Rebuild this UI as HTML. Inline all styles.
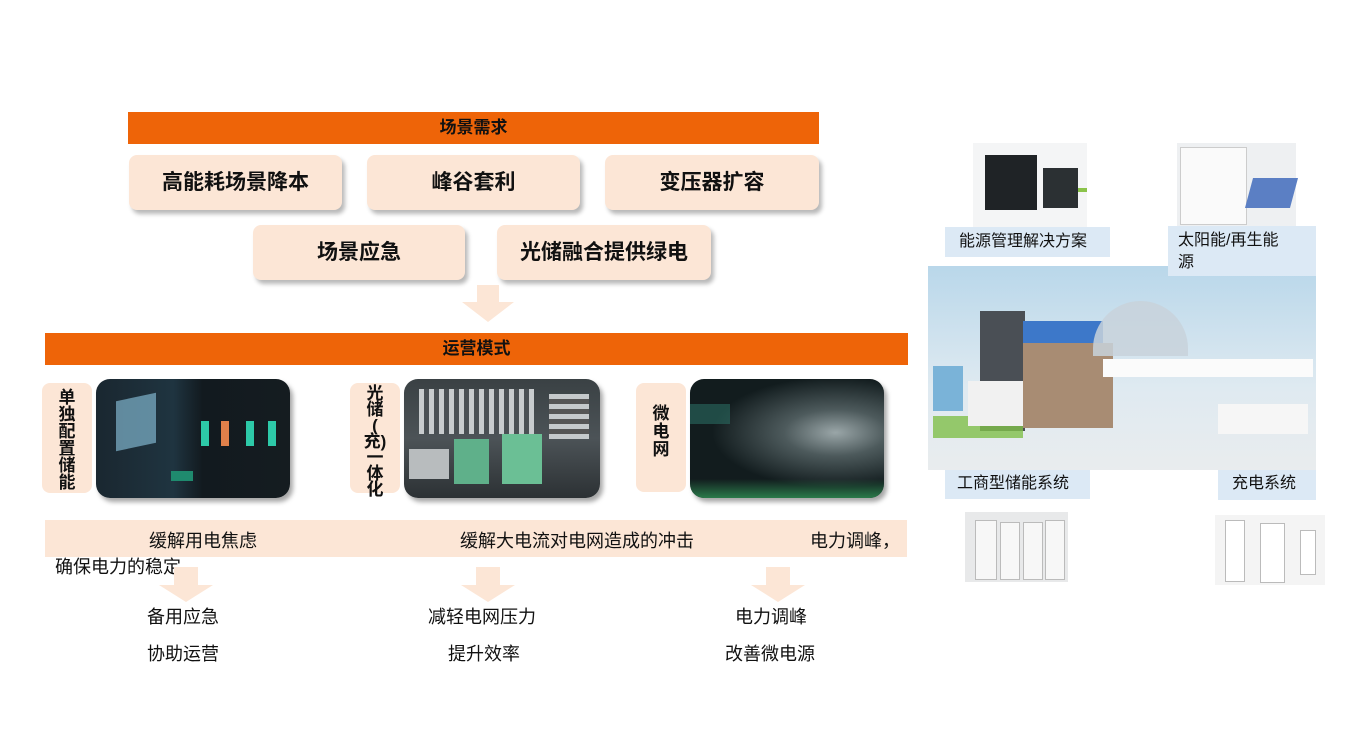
<!DOCTYPE html>
<html><head><meta charset="utf-8"><style>
*{margin:0;padding:0;box-sizing:border-box}
body{width:1369px;height:752px;background:#fff;position:relative;overflow:hidden;font-family:"Liberation Sans","Noto Sans CJK SC",sans-serif;color:#111}
.a{position:absolute}
.bar{background:#ee6408;color:#111;font-weight:bold;font-size:17px;text-align:center;line-height:32px}
.box{background:#fce6d6;border-radius:8px;box-shadow:3px 4px 4px rgba(0,0,0,.28);font-weight:bold;font-size:21px;text-align:center;line-height:55px}
.vl{background:#fce6d6;border-radius:8px;font-weight:bold;font-size:17px;text-align:center;line-height:17px;padding-top:6px}
.img{border-radius:14px;box-shadow:3px 4px 5px rgba(0,0,0,.35);overflow:hidden}
.t{font-size:18px;white-space:nowrap}
.lbl{background:#dce9f5;font-size:16px;line-height:22px;padding-left:14px}
</style></head><body>

<div class="a bar" style="left:128px;top:112px;width:691px;height:32px">场景需求</div>
<div class="a box" style="left:129px;top:155px;width:213px;height:55px">高能耗场景降本</div>
<div class="a box" style="left:367px;top:155px;width:213px;height:55px">峰谷套利</div>
<div class="a box" style="left:605px;top:155px;width:214px;height:55px">变压器扩容</div>
<div class="a box" style="left:253px;top:225px;width:212px;height:55px">场景应急</div>
<div class="a box" style="left:497px;top:225px;width:214px;height:55px">光储融合提供绿电</div>

<svg class="a" style="left:460px;top:285px" width="56" height="38"><polygon points="17,0 39,0 39,17 54,17 28,37 2,17 17,17" fill="#fce6d6"/></svg>

<div class="a bar" style="left:45px;top:333px;width:863px;height:32px">运营模式</div>

<div class="a vl" style="left:42px;top:383px;width:50px;height:110px">单<br>独<br>配<br>置<br>储<br>能</div>
<div class="a img" style="left:96px;top:379px;width:194px;height:119px;background:linear-gradient(90deg,#1a2730 0%,#1f3440 40%,#121a1f 55%,#151c20 100%)">
 <div class="a" style="left:20px;top:18px;width:40px;height:50px;background:#7fb3cc;opacity:.7;transform:skewY(-12deg)"></div>
 <div class="a" style="left:105px;top:42px;width:8px;height:25px;background:#2dc9a8"></div>
 <div class="a" style="left:125px;top:42px;width:8px;height:25px;background:#e0804a"></div>
 <div class="a" style="left:150px;top:42px;width:8px;height:25px;background:#2dc9a8"></div>
 <div class="a" style="left:172px;top:42px;width:8px;height:25px;background:#2dc9a8"></div>
 <div class="a" style="left:75px;top:92px;width:22px;height:10px;background:#1f8a6e"></div>
</div>

<div class="a vl" style="left:350px;top:383px;width:50px;height:110px;line-height:16px;padding-top:3px">光<br>储<br>(<br>充)<br>一<br>体<br>化</div>
<div class="a img" style="left:404px;top:379px;width:196px;height:119px;background:linear-gradient(180deg,#3a4144,#4c5357 50%,#2c3134)">
 <div class="a" style="left:15px;top:10px;width:115px;height:45px;background:repeating-linear-gradient(90deg,#c8ccce 0 5px,#4a5054 5px 10px)"></div>
 <div class="a" style="left:50px;top:60px;width:35px;height:45px;background:#5fb08a"></div>
 <div class="a" style="left:98px;top:55px;width:40px;height:50px;background:#6bbf95"></div>
 <div class="a" style="left:5px;top:70px;width:40px;height:30px;background:#b8bcbe"></div>
 <div class="a" style="left:145px;top:15px;width:40px;height:45px;background:repeating-linear-gradient(180deg,#c5c9cb 0 5px,#555 5px 10px)"></div>
</div>

<div class="a vl" style="left:636px;top:383px;width:50px;height:109px;padding-top:22px;line-height:18px">微<br>电<br>网</div>
<div class="a img" style="left:690px;top:379px;width:194px;height:119px;background:radial-gradient(ellipse at 75% 45%,#9aa6a8 0%,#4d5a5c 25%,#121c1e 60%),#0e1718">
 <div class="a" style="left:0;top:100px;width:194px;height:19px;background:linear-gradient(0deg,#2a7a4a,transparent)"></div>
 <div class="a" style="left:0;top:25px;width:40px;height:20px;background:#2a6a60;opacity:.6"></div>
</div>

<div class="a" style="left:45px;top:520px;width:862px;height:37px;background:#fce6d6"></div>
<div class="a t" style="left:149px;top:527px">缓解用电焦虑</div>
<div class="a t" style="left:460px;top:527px">缓解大电流对电网造成的冲击</div>
<div class="a t" style="left:810px;top:527px">电力调峰，</div>
<div class="a t" style="left:55px;top:553px">确保电力的稳定</div>

<svg class="a" style="left:159px;top:567px" width="56" height="36"><polygon points="15,0 39,0 39,18 54,18 27,35 0,18 15,18" fill="#fce6d6"/></svg>
<svg class="a" style="left:461px;top:567px" width="56" height="36"><polygon points="15,0 39,0 39,18 54,18 27,35 0,18 15,18" fill="#fce6d6"/></svg>
<svg class="a" style="left:751px;top:567px" width="56" height="36"><polygon points="15,0 39,0 39,18 54,18 27,35 0,18 15,18" fill="#fce6d6"/></svg>

<div class="a t" style="left:147px;top:603px">备用应急</div>
<div class="a t" style="left:147px;top:640px">协助运营</div>
<div class="a t" style="left:428px;top:603px">减轻电网压力</div>
<div class="a t" style="left:448px;top:640px">提升效率</div>
<div class="a t" style="left:735px;top:603px">电力调峰</div>
<div class="a t" style="left:725px;top:640px">改善微电源</div>

<!-- right -->
<div class="a" style="left:973px;top:143px;width:114px;height:84px;background:#f4f5f6">
 <div class="a" style="left:12px;top:12px;width:52px;height:55px;background:#1f2326"></div>
 <div class="a" style="left:70px;top:25px;width:35px;height:40px;background:#2b3033"></div>
 <div class="a" style="left:105px;top:45px;width:9px;height:4px;background:#8bc34a"></div>
</div>
<div class="a" style="left:1177px;top:143px;width:119px;height:84px;background:#eef0f2">
 <div class="a" style="left:3px;top:4px;width:67px;height:78px;background:#fafafa;border:1px solid #ccc"></div>
 <div class="a" style="left:72px;top:35px;width:45px;height:30px;background:#5b7fc4;transform:skewX(-15deg)"></div>
</div>
<div class="a lbl" style="left:945px;top:227px;width:165px;height:30px;padding-top:4px">能源管理解决方案</div>

<div class="a" style="left:928px;top:266px;width:388px;height:204px;background:linear-gradient(180deg,#b9d7ea 0%,#dfeaf1 60%,#e9ecee 100%)">
 <div class="a" style="left:52px;top:45px;width:45px;height:120px;background:#4a4f55"></div>
 <div class="a" style="left:95px;top:55px;width:80px;height:22px;background:#3d78c9"></div>
 <div class="a" style="left:95px;top:77px;width:90px;height:85px;background:#a88c73"></div>
 <div class="a" style="left:165px;top:35px;width:95px;height:55px;background:#c8d2da;border-radius:60px 60px 0 0;opacity:.85"></div>
 <div class="a" style="left:175px;top:93px;width:210px;height:18px;background:#fbfbfb"></div>
 <div class="a" style="left:5px;top:100px;width:30px;height:45px;background:#7ab3d8"></div>
 <div class="a" style="left:5px;top:150px;width:90px;height:22px;background:#7fbf4a;opacity:.8"></div>
 <div class="a" style="left:40px;top:115px;width:55px;height:45px;background:#f1f1f1"></div>
 <div class="a" style="left:290px;top:138px;width:90px;height:30px;background:#f6f6f6"></div>
</div>
<div class="a lbl" style="left:1168px;top:226px;width:148px;height:50px;padding-top:4px;padding-left:10px">太阳能/再生能<br>源</div>
<div class="a lbl" style="left:945px;top:470px;width:145px;height:29px;padding-top:3px;padding-left:12px">工商型储能系统</div>
<div class="a lbl" style="left:1218px;top:470px;width:98px;height:30px;padding-top:3px">充电系统</div>

<div class="a" style="left:965px;top:512px;width:103px;height:70px;background:#e8e9ea">
 <div class="a" style="left:10px;top:8px;width:22px;height:60px;background:#f7f7f7;border:1px solid #bbb"></div>
 <div class="a" style="left:35px;top:10px;width:20px;height:58px;background:#f7f7f7;border:1px solid #bbb"></div>
 <div class="a" style="left:58px;top:10px;width:20px;height:58px;background:#f7f7f7;border:1px solid #bbb"></div>
 <div class="a" style="left:80px;top:8px;width:20px;height:60px;background:#f7f7f7;border:1px solid #bbb"></div>
</div>
<div class="a" style="left:1215px;top:515px;width:110px;height:70px;background:#f4f4f4">
 <div class="a" style="left:10px;top:5px;width:20px;height:62px;background:#fff;border:1px solid #bbb"></div>
 <div class="a" style="left:45px;top:8px;width:25px;height:60px;background:#fff;border:1px solid #bbb"></div>
 <div class="a" style="left:85px;top:15px;width:16px;height:45px;background:#fff;border:1px solid #bbb"></div>
</div>
</body></html>
